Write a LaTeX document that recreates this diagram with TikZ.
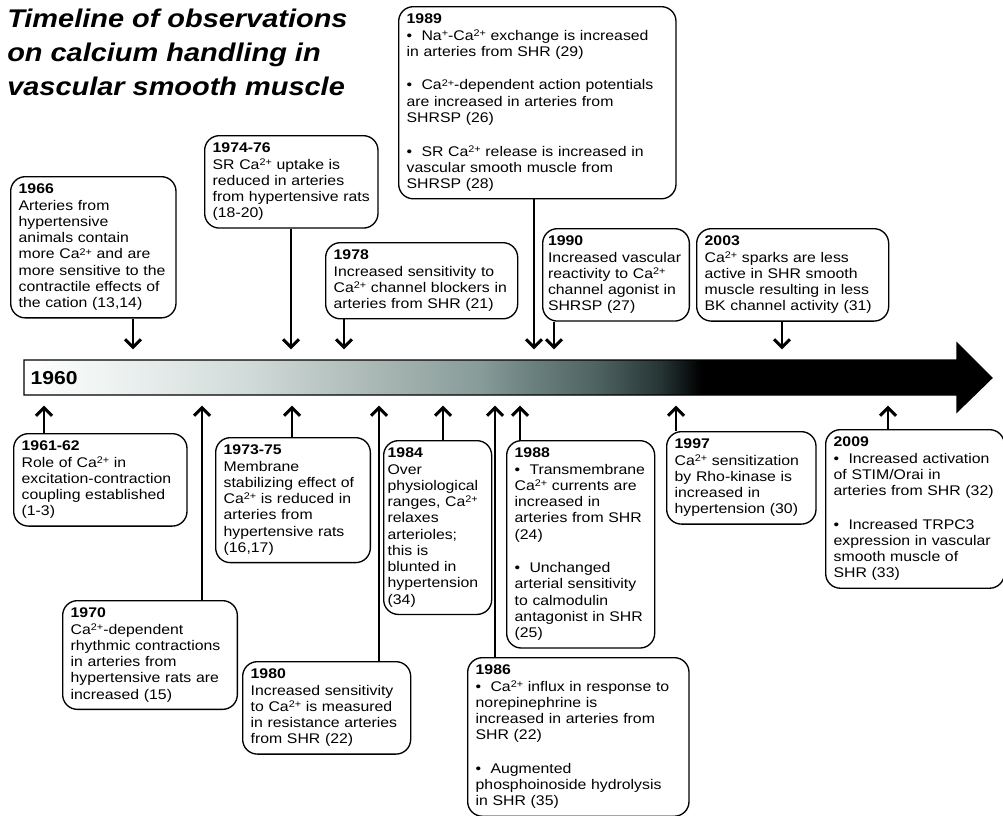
\documentclass[tikz,border=0pt]{standalone}
\usepackage{fontspec}
\setmainfont{Liberation Sans}[FakeStretch=1.13]
\usetikzlibrary{arrows.meta}
\hyphenpenalty=10000
\exhyphenpenalty=10000

\newcommand{\ioncharge}[1]{\raisebox{0.5ex}{\fontsize{7.2}{7.2}\selectfont #1}}
\newcommand{\caion}{Ca\ioncharge{2+}}
\pgfdeclarehorizontalshading{timeline}{100bp}{rgb(0bp)=(1,1,1); rgb(25bp)=(1,1,1);
  rgb(31bp)=(0.91,0.933,0.929); rgb(36.7bp)=(0.816,0.855,0.847);
  rgb(42.9bp)=(0.671,0.725,0.714); rgb(48.6bp)=(0.529,0.608,0.596);
  rgb(51.1bp)=(0.424,0.51,0.502); rgb(54.8bp)=(0.298,0.376,0.373);
  rgb(57.9bp)=(0.149,0.204,0.204); rgb(60bp)=(0,0,0); rgb(100bp)=(0,0,0)}

\begin{document}
\begin{tikzpicture}[x=0.75pt, y=-0.75pt,
    event/.style = {draw, line width=1pt, rounded corners=11pt,
      anchor=north west, align=left, inner xsep=6pt, inner ysep=5.5pt,
      font=\fontsize{10.5}{12.2}\selectfont},
    pointer/.style = {line width=2.2pt, -{Straight Barb[length=6pt,width=12pt]},
      shorten >=8pt}]
  \useasboundingbox (0,0) rectangle (1003,815);

  \node[anchor=north west, align=left, inner sep=0pt,
    font=\fontsize{19.2}{25.5}\selectfont\bfseries\itshape] (title) at (7,9)
    {Timeline of observations\\ on calcium handling in\\ vascular smooth muscle};

  % the time axis
  \shadedraw[shading=timeline, line width=0.8pt] (24,360) -- (957,360) -- (957,343)
    -- (992,378) -- (957,412) -- (957,395) -- (24,395) -- cycle;
  \node[anchor=west, font=\fontsize{14}{16}\selectfont\bfseries] (y1960) at (26,378) {1960};

  % observations above the axis
  \node[event, text width=112pt] (b1966) at (10,176)
    {\textbf{1966}\\ Arteries from\\ hypertensive\\ animals contain\\ more \caion{} and are\\
     more sensitive to the\\ contractile effects of\\ the cation (13,14)};
  \node[event, text width=118pt] (b1974) at (204,135)
    {\textbf{1974-76}\\ SR \caion{} uptake is\\ reduced in arteries\\ from hypertensive rats\\ (18-20)};
  \node[event, text width=132pt] (b1978) at (325,242)
    {\textbf{1978}\\ Increased sensitivity to\\ \caion{} channel blockers in\\ arteries from SHR (21)};
  \node[event, text width=196pt] (b1989) at (398,6)
    {\textbf{1989}\\ \textbullet~ Na\ioncharge{+}-\caion{} exchange is increased\\ in arteries from SHR (29)\\[13pt]
     \textbullet~ \caion-dependent action potentials\\ are increased in arteries from\\ SHRSP (26)\\[13pt]
     \textbullet~ SR \caion{} release is increased in\\ vascular smooth muscle from\\ SHRSP (28)};
  \node[event, text width=102pt, inner xsep=4pt] (b1990) at (542,228)
    {\textbf{1990}\\ Increased vascular\\ reactivity to \caion\\ channel agonist in\\ SHRSP (27)};
  \node[event, text width=132pt] (b2003) at (696,228)
    {\textbf{2003}\\ \caion{} sparks are less\\ active in SHR smooth\\ muscle resulting in less\\ BK channel activity (31)};

  % observations below the axis
  \node[event, text width=118pt] (b1961) at (13,433)
    {\textbf{1961-62}\\ Role of \caion{} in\\ excitation-contraction\\ coupling established\\ (1-3)};
  \node[event, text width=119pt] (b1970) at (62,600)
    {\textbf{1970}\\ \caion-dependent\\ rhythmic contractions\\ in arteries from\\ hypertensive rats are\\ increased (15)};
  \node[event, text width=104pt] (b1973) at (215,437)
    {\textbf{1973-75}\\ Membrane\\ stabilizing effect of\\ \caion{} is reduced in\\ arteries from\\ hypertensive rats\\ (16,17)};
  \node[event, text width=114pt] (b1980) at (242,661)
    {\textbf{1980}\\ Increased sensitivity\\ to \caion{} is measured\\ in resistance arteries\\ from SHR (22)};
  \node[event, text width=75pt, inner xsep=3pt] (b1984) at (383,440)
    {\textbf{1984}\\ Over\\ physiological\\ ranges, \caion\\ relaxes\\ arterioles;\\ this is\\ blunted in\\ hypertension\\ (34)};
  \node[event, text width=154pt] (b1986) at (467,657)
    {\textbf{1986}\\ \textbullet~ \caion{} influx in response to\\ norepinephrine is\\ increased in arteries from\\ SHR (22)\\[13pt]
     \textbullet~ Augmented\\ phosphoinoside hydrolysis\\ in SHR (35)};
  \node[event, text width=99pt] (b1988) at (506,440)
    {\textbf{1988}\\ \textbullet~ Transmembrane\\ \caion{} currents are\\ increased in\\ arteries from SHR\\ (24)\\[13pt]
     \textbullet~ Unchanged\\ arterial sensitivity\\ to calmodulin\\ antagonist in SHR\\ (25)};
  \node[event, text width=100pt] (b1997) at (666,431)
    {\textbf{1997}\\ \caion{} sensitization\\ by Rho-kinase is\\ increased in\\ hypertension (30)};
  \node[event, text width=122pt] (b2009) at (825,429)
    {\textbf{2009}\\ \textbullet~ Increased activation\\ of STIM/Orai in\\ arteries from SHR (32)\\[13pt]
     \textbullet~ Increased TRPC3\\ expression in vascular\\ smooth muscle of\\ SHR (33)};

  % where the pointers meet the axis
  \coordinate (t1966) at (133,360);
  \coordinate (t1974) at (291,360);
  \coordinate (t1978) at (344,360);
  \coordinate (t1989) at (534,360);
  \coordinate (t1990) at (554,360);
  \coordinate (t2003) at (782,360);
  \coordinate (t1961) at (44,395);
  \coordinate (t1970) at (202,395);
  \coordinate (t1973) at (292,395);
  \coordinate (t1980) at (379,395);
  \coordinate (t1984) at (443,395);
  \coordinate (t1986) at (495,395);
  \coordinate (t1988) at (520,395);
  \coordinate (t1997) at (676,395);
  \coordinate (t2009) at (888,395);

  \draw[pointer] (b1966.south -| t1966) -- (t1966);
  \draw[pointer] (b1974.south -| t1974) -- (t1974);
  \draw[pointer] (b1978.south -| t1978) -- (t1978);
  \draw[pointer] (b1989.south -| t1989) -- (t1989);
  \draw[pointer] (b1990.south -| t1990) -- (t1990);
  \draw[pointer] (b2003.south -| t2003) -- (t2003);
  \draw[pointer] (b1961.north -| t1961) -- (t1961);
  \draw[pointer] (b1970.north -| t1970) -- (t1970);
  \draw[pointer] (b1973.north -| t1973) -- (t1973);
  \draw[pointer] (b1980.north -| t1980) -- (t1980);
  \draw[pointer] (b1984.north -| t1984) -- (t1984);
  \draw[pointer] (b1986.north -| t1986) -- (t1986);
  \draw[pointer] (b1988.north -| t1988) -- (t1988);
  \draw[pointer] (b1997.north -| t1997) -- (t1997);
  \draw[pointer] (b2009.north -| t2009) -- (t2009);
\end{tikzpicture}
\end{document}
